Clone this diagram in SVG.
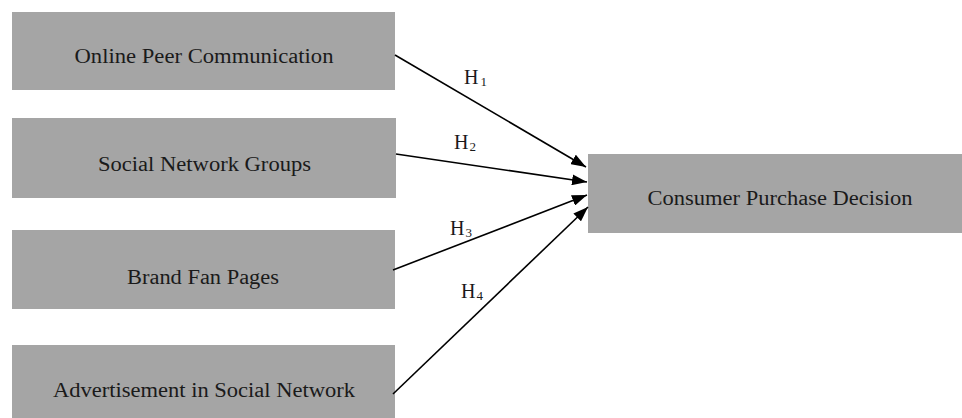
<svg xmlns="http://www.w3.org/2000/svg" width="962" height="418" viewBox="0 0 962 418">
<style>
.box{fill:#a5a5a5;}
.lbl{font-family:"Liberation Serif","Times New Roman",serif;font-size:20px;fill:#1a1a1a;text-anchor:middle;}
.h{font-family:"Liberation Serif","Times New Roman",serif;font-size:20px;fill:#1a1a1a;}
.sub{font-size:13px;}
.conn{stroke:#000;stroke-width:1.6;fill:none;marker-end:url(#arr);}
</style>
<defs>
<marker id="arr" markerUnits="userSpaceOnUse" markerWidth="15" markerHeight="11" refX="15" refY="5.5" orient="auto">
<path d="M0,0 L15,5.5 L0,11 z" fill="#000"/>
</marker>
</defs>
<rect width="962" height="418" fill="#fff"/>
<g id="n1"><rect class="box" x="12" y="12" width="383" height="78"/><text class="lbl" x="204" y="63" textLength="259" lengthAdjust="spacingAndGlyphs">Online Peer Communication</text></g>
<g id="n2"><rect class="box" x="12" y="118" width="384" height="80"/><text class="lbl" x="204.5" y="171" textLength="213" lengthAdjust="spacingAndGlyphs">Social Network Groups</text></g>
<g id="n3"><rect class="box" x="12" y="230" width="383" height="79"/><text class="lbl" x="203" y="284" textLength="152" lengthAdjust="spacingAndGlyphs">Brand Fan Pages</text></g>
<g id="n4"><rect class="box" x="12" y="345" width="383" height="80"/><text class="lbl" x="204" y="397" textLength="302" lengthAdjust="spacingAndGlyphs">Advertisement in Social Network</text></g>
<g id="n5"><rect class="box" x="588" y="154" width="380" height="79"/><text class="lbl" x="780" y="205" textLength="265" lengthAdjust="spacingAndGlyphs">Consumer Purchase Decision</text></g>
<g id="connectors">
<line class="conn" x1="395" y1="55" x2="586" y2="167"/>
<line class="conn" x1="396" y1="154" x2="587" y2="182"/>
<line class="conn" x1="393" y1="270" x2="587" y2="195"/>
<line class="conn" x1="393" y1="394" x2="588" y2="207"/>
</g>
<g id="labels">
<text class="h" x="464" y="84">H<tspan class="sub" dx="2" dy="2">1</tspan></text>
<text class="h" x="454" y="149">H<tspan class="sub" dx="1" dy="2">2</tspan></text>
<text class="h" x="450" y="235">H<tspan class="sub" dx="1" dy="2">3</tspan></text>
<text class="h" x="461" y="298">H<tspan class="sub" dx="1" dy="2">4</tspan></text>
</g>
</svg>
